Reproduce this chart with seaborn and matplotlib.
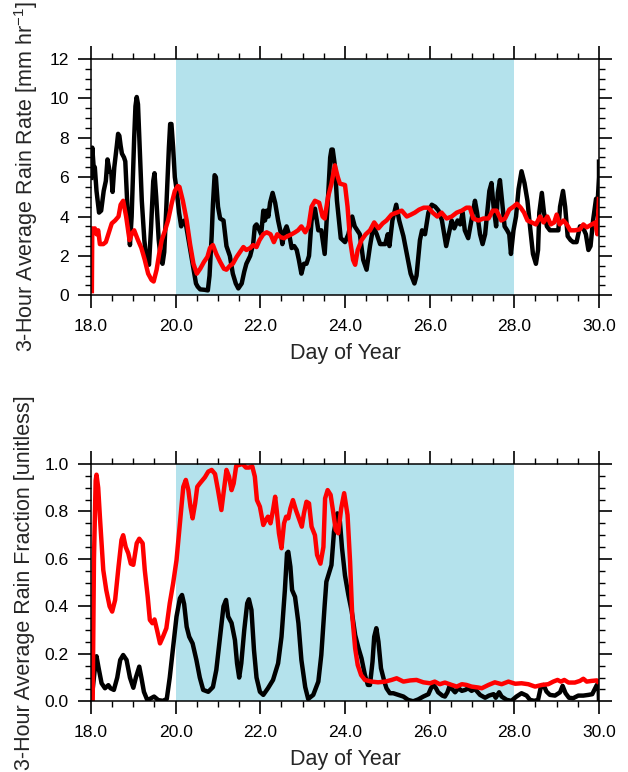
import matplotlib
matplotlib.use("Agg")
import matplotlib.pyplot as plt
from matplotlib.ticker import MultipleLocator, FormatStrFormatter
import numpy as np
import pandas as pd
import seaborn as sns

# ---- 3-hour average rain rate [mm/hr] ----
rate_black_day = [18.00, 18.03, 18.06, 18.09, 18.13, 18.19, 18.24, 18.30, 18.35, 18.39, 18.44, 18.48, 18.51, 18.55,
                  18.61, 18.64, 18.67, 18.70, 18.73, 18.78, 18.81, 18.86, 18.92, 18.96, 19.02, 19.05, 19.08, 19.11,
                  19.15, 19.20, 19.26, 19.31, 19.37, 19.42, 19.47, 19.50, 19.54, 19.60, 19.65, 19.69, 19.73, 19.78,
                  19.84, 19.87, 19.90, 19.94, 19.98, 20.02, 20.08, 20.13, 20.17, 20.21, 20.25, 20.33, 20.40, 20.44,
                  20.48, 20.52, 20.58, 20.68, 20.76, 20.80, 20.85, 20.88, 20.92, 20.95, 21.00, 21.05, 21.13, 21.20,
                  21.28, 21.35, 21.42, 21.48, 21.56, 21.62, 21.67, 21.76, 21.83, 21.87, 21.91, 21.98, 22.02, 22.07,
                  22.11, 22.15, 22.19, 22.23, 22.29, 22.35, 22.42, 22.49, 22.52, 22.58, 22.62, 22.69, 22.74, 22.80,
                  22.86, 22.91, 22.97, 23.03, 23.09, 23.15, 23.21, 23.29, 23.37, 23.44, 23.52, 23.60, 23.65, 23.68,
                  23.71, 23.76, 23.81, 23.90, 24.00, 24.08, 24.17, 24.23, 24.35, 24.43, 24.51, 24.59, 24.67, 24.75,
                  24.83, 24.95, 25.01, 25.05, 25.12, 25.21, 25.28, 25.38, 25.46, 25.55, 25.64, 25.69, 25.77, 25.82,
                  25.89, 25.97, 26.05, 26.13, 26.21, 26.29, 26.39, 26.47, 26.52, 26.58, 26.66, 26.72, 26.78, 26.83,
                  26.91, 26.96, 27.02, 27.07, 27.12, 27.19, 27.25, 27.31, 27.36, 27.41, 27.46, 27.51, 27.57, 27.61,
                  27.66, 27.71, 27.77, 27.83, 27.88, 27.92, 27.98, 28.04, 28.10, 28.17, 28.24, 28.31, 28.37, 28.44,
                  28.51, 28.56, 28.59, 28.65, 28.70, 28.77, 28.84, 28.92, 29.04, 29.08, 29.15, 29.20, 29.26, 29.33,
                  29.39, 29.47, 29.55, 29.61, 29.69, 29.75, 29.80, 29.86, 29.93, 29.97, 30.00, 30.00]
rate_black = [5.85, 7.5, 6.6, 6.5, 5.3, 4.2, 4.3, 5.3, 5.8, 6.9, 6.3, 6.2, 5.25, 6.5,
              7.6, 8.2, 8.1, 7.6, 7.2, 7.0, 6.8, 4.5, 2.55, 4.0, 8.0, 9.6, 10.07, 9.7,
              7.5, 4.8, 2.8, 1.8, 1.55, 3.5, 5.8, 6.2, 5.0, 2.8, 1.8, 1.6, 2.2, 4.5,
              7.5, 8.7, 8.7, 7.5, 6.0, 5.4, 4.2, 3.5, 3.7, 3.8, 3.5, 2.5, 1.6, 1.1,
              0.6, 0.44, 0.3, 0.28, 0.25, 1.0, 3.0, 4.6, 6.1, 6.0, 4.5, 3.9, 3.8, 2.5,
              2.0, 1.1, 0.6, 0.35, 0.6, 1.2, 1.6, 2.0, 2.6, 3.5, 3.6, 3.3, 3.1, 4.3,
              3.8, 4.3, 4.0, 4.7, 5.2, 4.7, 3.8, 3.1, 2.6, 3.3, 3.5, 3.0, 2.4, 2.5,
              2.3, 1.8, 1.1, 1.6, 1.6, 2.0, 3.8, 4.4, 3.3, 3.3, 2.1, 5.0, 7.0, 7.4,
              7.4, 6.6, 4.8, 2.9, 2.7, 3.1, 4.0, 3.5, 3.1, 1.8, 1.3, 2.5, 3.5, 3.1,
              2.6, 2.6, 3.1, 2.5, 3.8, 4.6, 3.8, 3.0, 2.1, 1.1, 0.6, 1.0, 2.8, 3.3,
              3.1, 4.2, 4.6, 4.5, 4.3, 3.8, 2.5, 3.3, 3.8, 3.4, 3.8, 3.6, 4.2, 3.3,
              2.9, 3.5, 4.2, 4.8, 4.2, 3.1, 2.6, 3.1, 4.2, 5.3, 5.7, 4.5, 3.5, 5.2,
              5.85, 4.8, 3.5, 3.3, 3.1, 2.1, 3.3, 4.0, 5.4, 6.3, 5.7, 4.8, 3.5, 2.1,
              1.6, 2.3, 4.2, 5.2, 4.2, 3.5, 3.3, 3.3, 3.3, 4.5, 5.3, 4.5, 3.0, 2.8,
              2.7, 2.7, 3.5, 3.5, 3.1, 2.3, 2.5, 3.8, 4.9, 4.8, 6.0, 6.9]

rate_red_day = [18.02, 18.03, 18.06, 18.09, 18.13, 18.17, 18.21, 18.29, 18.35, 18.41, 18.49, 18.57, 18.65, 18.70,
                18.76, 18.83, 18.91, 18.96, 19.02, 19.11, 19.19, 19.27, 19.35, 19.43, 19.48, 19.55, 19.61, 19.67,
                19.75, 19.82, 19.91, 19.98, 20.05, 20.09, 20.17, 20.26, 20.34, 20.42, 20.50, 20.58, 20.67, 20.75,
                20.81, 20.88, 20.96, 21.05, 21.14, 21.20, 21.28, 21.35, 21.44, 21.52, 21.60, 21.67, 21.76, 21.83,
                21.91, 21.98, 22.07, 22.15, 22.24, 22.32, 22.40, 22.48, 22.56, 22.64, 22.74, 22.82, 22.89, 22.97,
                23.06, 23.14, 23.21, 23.29, 23.39, 23.47, 23.52, 23.60, 23.68, 23.76, 23.83, 23.88, 24.00, 24.06,
                24.12, 24.19, 24.24, 24.30, 24.39, 24.49, 24.59, 24.69, 24.79, 24.89, 24.98, 25.10, 25.22, 25.34,
                25.46, 25.56, 25.65, 25.75, 25.86, 25.97, 26.07, 26.18, 26.28, 26.40, 26.52, 26.64, 26.76, 26.87,
                26.95, 27.03, 27.15, 27.27, 27.39, 27.49, 27.58, 27.69, 27.78, 27.88, 27.98, 28.06, 28.15, 28.23,
                28.31, 28.41, 28.51, 28.61, 28.69, 28.78, 28.86, 28.94, 29.00, 29.07, 29.16, 29.24, 29.32, 29.43,
                29.55, 29.63, 29.71, 29.83, 29.91, 29.96, 30.00]
rate_red = [0.1, 3.4, 3.3, 3.4, 3.1, 3.3, 2.6, 2.6, 2.7, 3.1, 3.65, 3.8, 4.0, 4.6,
            4.8, 4.0, 2.8, 3.1, 3.3, 2.8, 2.4, 1.8, 1.1, 0.78, 0.7, 1.3, 2.1, 2.8,
            3.3, 3.8, 4.7, 5.3, 5.55, 5.5, 4.8, 3.8, 2.6, 1.6, 1.1, 1.35, 1.7, 1.95,
            2.4, 2.55, 2.1, 1.7, 1.35, 1.3, 1.5, 1.6, 1.95, 2.2, 2.45, 2.3, 2.4, 2.55,
            2.45, 2.8, 3.1, 3.2, 3.1, 2.7, 3.1, 2.95, 2.9, 3.0, 3.1, 3.2, 3.3, 3.5,
            3.2, 3.5, 4.5, 4.8, 4.7, 4.0, 3.9, 5.0, 5.67, 6.6, 6.0, 5.67, 5.6, 4.5,
            2.8, 1.8, 1.55, 2.3, 2.8, 3.1, 3.3, 3.7, 3.4, 3.65, 3.8, 4.1, 4.2, 4.3,
            4.0, 4.1, 4.2, 4.35, 4.45, 4.45, 4.2, 4.0, 4.2, 3.9, 4.0, 4.2, 4.3, 4.45,
            4.45, 3.9, 3.8, 3.9, 3.9, 4.3, 4.3, 3.8, 3.9, 4.35, 4.5, 4.65, 4.45, 4.2,
            3.8, 3.7, 3.6, 4.0, 3.7, 4.0, 3.6, 3.7, 4.1, 3.6, 3.8, 3.6, 3.3, 3.3,
            3.35, 3.6, 3.45, 3.6, 3.7, 3.1, 5.0]

# ---- 3-hour average rain fraction [unitless] ----
frac_black_day = [18.00, 18.04, 18.08, 18.13, 18.18, 18.25, 18.33, 18.41, 18.46, 18.54, 18.62, 18.69, 18.76, 18.84,
                  18.92, 19.00, 19.06, 19.14, 19.19, 19.25, 19.33, 19.39, 19.49, 19.59, 19.70, 19.79, 19.86, 19.94,
                  20.02, 20.10, 20.15, 20.20, 20.26, 20.32, 20.40, 20.49, 20.57, 20.65, 20.77, 20.88, 20.96, 21.05,
                  21.13, 21.19, 21.24, 21.32, 21.40, 21.45, 21.50, 21.55, 21.62, 21.69, 21.73, 21.79, 21.85, 21.91,
                  21.99, 22.07, 22.18, 22.30, 22.42, 22.50, 22.58, 22.63, 22.66, 22.71, 22.75, 22.82, 22.90, 22.97,
                  23.06, 23.13, 23.25, 23.37, 23.44, 23.52, 23.56, 23.62, 23.68, 23.74, 23.82, 23.88, 23.93, 24.00,
                  24.08, 24.16, 24.24, 24.32, 24.39, 24.47, 24.54, 24.59, 24.65, 24.69, 24.74, 24.79, 24.85, 24.93,
                  24.98, 25.06, 25.14, 25.26, 25.38, 25.49, 25.61, 25.73, 25.85, 25.97, 26.03, 26.09, 26.15, 26.20,
                  26.30, 26.36, 26.42, 26.48, 26.53, 26.60, 26.68, 26.76, 26.84, 26.91, 26.99, 27.07, 27.19, 27.31,
                  27.40, 27.51, 27.56, 27.64, 27.70, 27.82, 27.93, 28.05, 28.17, 28.29, 28.37, 28.47, 28.56, 28.62,
                  28.69, 28.76, 28.84, 28.96, 29.08, 29.14, 29.21, 29.29, 29.39, 29.51, 29.63, 29.75, 29.84, 29.91,
                  29.95, 29.99, 30.00]
frac_black = [0.0, 0.05, 0.12, 0.19, 0.14, 0.076, 0.055, 0.068, 0.055, 0.048, 0.10, 0.174, 0.195, 0.174,
              0.10, 0.057, 0.10, 0.146, 0.10, 0.04, 0.005, 0.01, 0.02, 0.005, 0.002, 0.01, 0.10, 0.23,
              0.357, 0.434, 0.448, 0.41, 0.314, 0.272, 0.244, 0.174, 0.10, 0.048, 0.04, 0.06, 0.132, 0.272,
              0.40, 0.427, 0.357, 0.33, 0.258, 0.16, 0.10, 0.16, 0.30, 0.413, 0.43, 0.385, 0.216, 0.10,
              0.04, 0.027, 0.055, 0.09, 0.16, 0.272, 0.469, 0.624, 0.63, 0.567, 0.469, 0.44, 0.329, 0.174,
              0.06, 0.01, 0.027, 0.083, 0.195, 0.406, 0.504, 0.539, 0.574, 0.715, 0.792, 0.757, 0.645, 0.53,
              0.448, 0.378, 0.279, 0.223, 0.181, 0.111, 0.069, 0.069, 0.167, 0.272, 0.308, 0.251, 0.139, 0.083,
              0.055, 0.034, 0.034, 0.027, 0.02, 0.006, 0.0, 0.008, 0.02, 0.03, 0.055, 0.069, 0.055, 0.038,
              0.024, 0.02, 0.038, 0.069, 0.052, 0.038, 0.055, 0.044, 0.048, 0.055, 0.044, 0.052, 0.027, 0.015,
              0.024, 0.03, 0.015, 0.038, 0.02, 0.006, 0.002, 0.02, 0.034, 0.024, 0.006, 0.002, 0.006, 0.055,
              0.069, 0.041, 0.027, 0.024, 0.038, 0.065, 0.034, 0.015, 0.013, 0.024, 0.024, 0.027, 0.03, 0.055,
              0.069, 0.07, 0.0]

frac_red_day = [18.04, 18.07, 18.11, 18.13, 18.17, 18.21, 18.29, 18.36, 18.44, 18.50, 18.57, 18.65, 18.72, 18.76,
                18.82, 18.88, 18.94, 19.00, 19.08, 19.14, 19.22, 19.27, 19.34, 19.39, 19.45, 19.50, 19.56, 19.63,
                19.70, 19.78, 19.86, 19.94, 20.02, 20.10, 20.18, 20.24, 20.30, 20.35, 20.40, 20.46, 20.51, 20.57,
                20.64, 20.69, 20.77, 20.85, 20.93, 21.00, 21.08, 21.14, 21.20, 21.26, 21.32, 21.37, 21.43, 21.50,
                21.58, 21.66, 21.73, 21.81, 21.87, 21.92, 21.99, 22.07, 22.13, 22.18, 22.24, 22.30, 22.35, 22.39,
                22.44, 22.50, 22.56, 22.61, 22.66, 22.71, 22.77, 22.84, 22.91, 22.98, 23.03, 23.09, 23.15, 23.21,
                23.29, 23.34, 23.42, 23.49, 23.53, 23.59, 23.66, 23.72, 23.78, 23.84, 23.91, 23.98, 24.06, 24.12,
                24.17, 24.24, 24.30, 24.38, 24.47, 24.63, 24.78, 24.95, 25.10, 25.22, 25.38, 25.54, 25.69, 25.85,
                26.01, 26.12, 26.24, 26.36, 26.52, 26.64, 26.76, 26.87, 26.99, 27.15, 27.23, 27.39, 27.54, 27.70,
                27.86, 28.02, 28.17, 28.33, 28.49, 28.65, 28.80, 28.92, 29.02, 29.10, 29.18, 29.28, 29.43, 29.55,
                29.63, 29.71, 29.83, 29.95, 30.00]
frac_red = [0.0, 0.6, 0.93, 0.955, 0.9, 0.778, 0.553, 0.469, 0.40, 0.378, 0.427, 0.567, 0.68, 0.70,
            0.65, 0.624, 0.58, 0.575, 0.666, 0.685, 0.666, 0.553, 0.44, 0.343, 0.329, 0.345, 0.30, 0.244,
            0.272, 0.308, 0.413, 0.497, 0.595, 0.75, 0.904, 0.933, 0.89, 0.82, 0.771, 0.834, 0.904, 0.918,
            0.933, 0.944, 0.968, 0.975, 0.958, 0.89, 0.806, 0.89, 0.975, 0.947, 0.89, 0.918, 0.992, 0.996,
            1.0, 0.985, 0.985, 0.99, 0.947, 0.848, 0.82, 0.743, 0.764, 0.778, 0.75, 0.806, 0.862, 0.8,
            0.708, 0.645, 0.75, 0.778, 0.771, 0.813, 0.848, 0.806, 0.771, 0.736, 0.792, 0.841, 0.834, 0.736,
            0.70, 0.617, 0.58, 0.65, 0.855, 0.89, 0.87, 0.799, 0.722, 0.708, 0.813, 0.877, 0.785, 0.588,
            0.364, 0.223, 0.153, 0.111, 0.09, 0.083, 0.08, 0.083, 0.09, 0.097, 0.083, 0.088, 0.09, 0.08,
            0.076, 0.083, 0.072, 0.079, 0.069, 0.062, 0.072, 0.069, 0.062, 0.058, 0.055, 0.069, 0.08, 0.072,
            0.083, 0.074, 0.076, 0.072, 0.062, 0.069, 0.072, 0.083, 0.09, 0.083, 0.09, 0.079, 0.079, 0.086,
            0.095, 0.083, 0.086, 0.088, 0.076]

# highlighted period (days of year)
period_start, period_end = 20.0, 28.0

sns.set_theme(style="ticks")
plt.rcParams.update({
    "font.family": ["Liberation Sans", "DejaVu Sans"],
    "mathtext.fontset": "custom",
    "mathtext.rm": "Liberation Sans",
    "mathtext.it": "Liberation Sans",
    "mathtext.sf": "Liberation Sans",
    "xtick.direction": "out",
    "ytick.direction": "out",
    "xtick.major.size": 9.4,
    "ytick.major.size": 9.4,
    "xtick.minor.size": 4.6,
    "ytick.minor.size": 4.6,
    "xtick.major.width": 1.2,
    "ytick.major.width": 1.2,
    "xtick.minor.width": 1.0,
    "ytick.minor.width": 1.0,
    "xtick.major.pad": 7.5,
    "ytick.major.pad": 6.5,
    "xtick.labelsize": 12.6,
    "ytick.labelsize": 12.6,
    "xtick.top": True,
    "ytick.right": True,
    "xtick.minor.visible": True,
    "ytick.minor.visible": True,
    "axes.linewidth": 1.1,
    "axes.edgecolor": "black",
    "xtick.color": "black",
    "ytick.color": "black",
})

fig = plt.figure(figsize=(6.28, 7.72), dpi=100)
ax_top = fig.add_axes([91 / 628, 1 - 295.3 / 772, 508 / 628, 236.3 / 772])
ax_bot = fig.add_axes([91 / 628, 1 - 701.3 / 772, 508 / 628, 237.3 / 772])

shade = "#B4E2EC"
lw = 3.2


def draw_panel(ax, bx, by, rx, ry):
    ax.axvspan(period_start, period_end, color=shade, lw=0, zorder=0)
    sns.lineplot(x=bx, y=by, ax=ax, color="black", lw=lw, estimator=None, sort=False,
                 solid_joinstyle="round", solid_capstyle="butt", zorder=2)
    sns.lineplot(x=rx, y=ry, ax=ax, color="red", lw=lw, estimator=None, sort=False,
                 solid_joinstyle="round", solid_capstyle="butt", zorder=3)
    ax.set_xlim(18, 30)
    ax.xaxis.set_major_locator(MultipleLocator(2))
    ax.xaxis.set_minor_locator(MultipleLocator(0.5))
    ax.xaxis.set_major_formatter(FormatStrFormatter("%.1f"))
    for s in ax.spines.values():
        s.set_zorder(4)
    ax.set_xlabel("Day of Year", fontsize=15.5, labelpad=7)


draw_panel(ax_top, rate_black_day, rate_black, rate_red_day, rate_red)
ax_top.set_ylim(0, 12)
ax_top.yaxis.set_major_locator(MultipleLocator(2))
ax_top.yaxis.set_minor_locator(MultipleLocator(0.5))
ax_top.set_ylabel("3-Hour Average Rain Rate [mm hr$^{-1}$]", fontsize=15.5, labelpad=7)

draw_panel(ax_bot, frac_black_day, frac_black, frac_red_day, frac_red)
ax_bot.set_ylim(0, 1)
ax_bot.yaxis.set_major_locator(MultipleLocator(0.2))
ax_bot.yaxis.set_minor_locator(MultipleLocator(0.05))
ax_bot.yaxis.set_major_formatter(FormatStrFormatter("%.1f"))
ax_bot.set_ylabel("3-Hour Average Rain Fraction [unitless]", fontsize=15.5, labelpad=7)

for ax in (ax_top, ax_bot):
    ax.tick_params(which="both", top=True, right=True, labeltop=False, labelright=False)

fig.savefig("out.png", dpi=100)
